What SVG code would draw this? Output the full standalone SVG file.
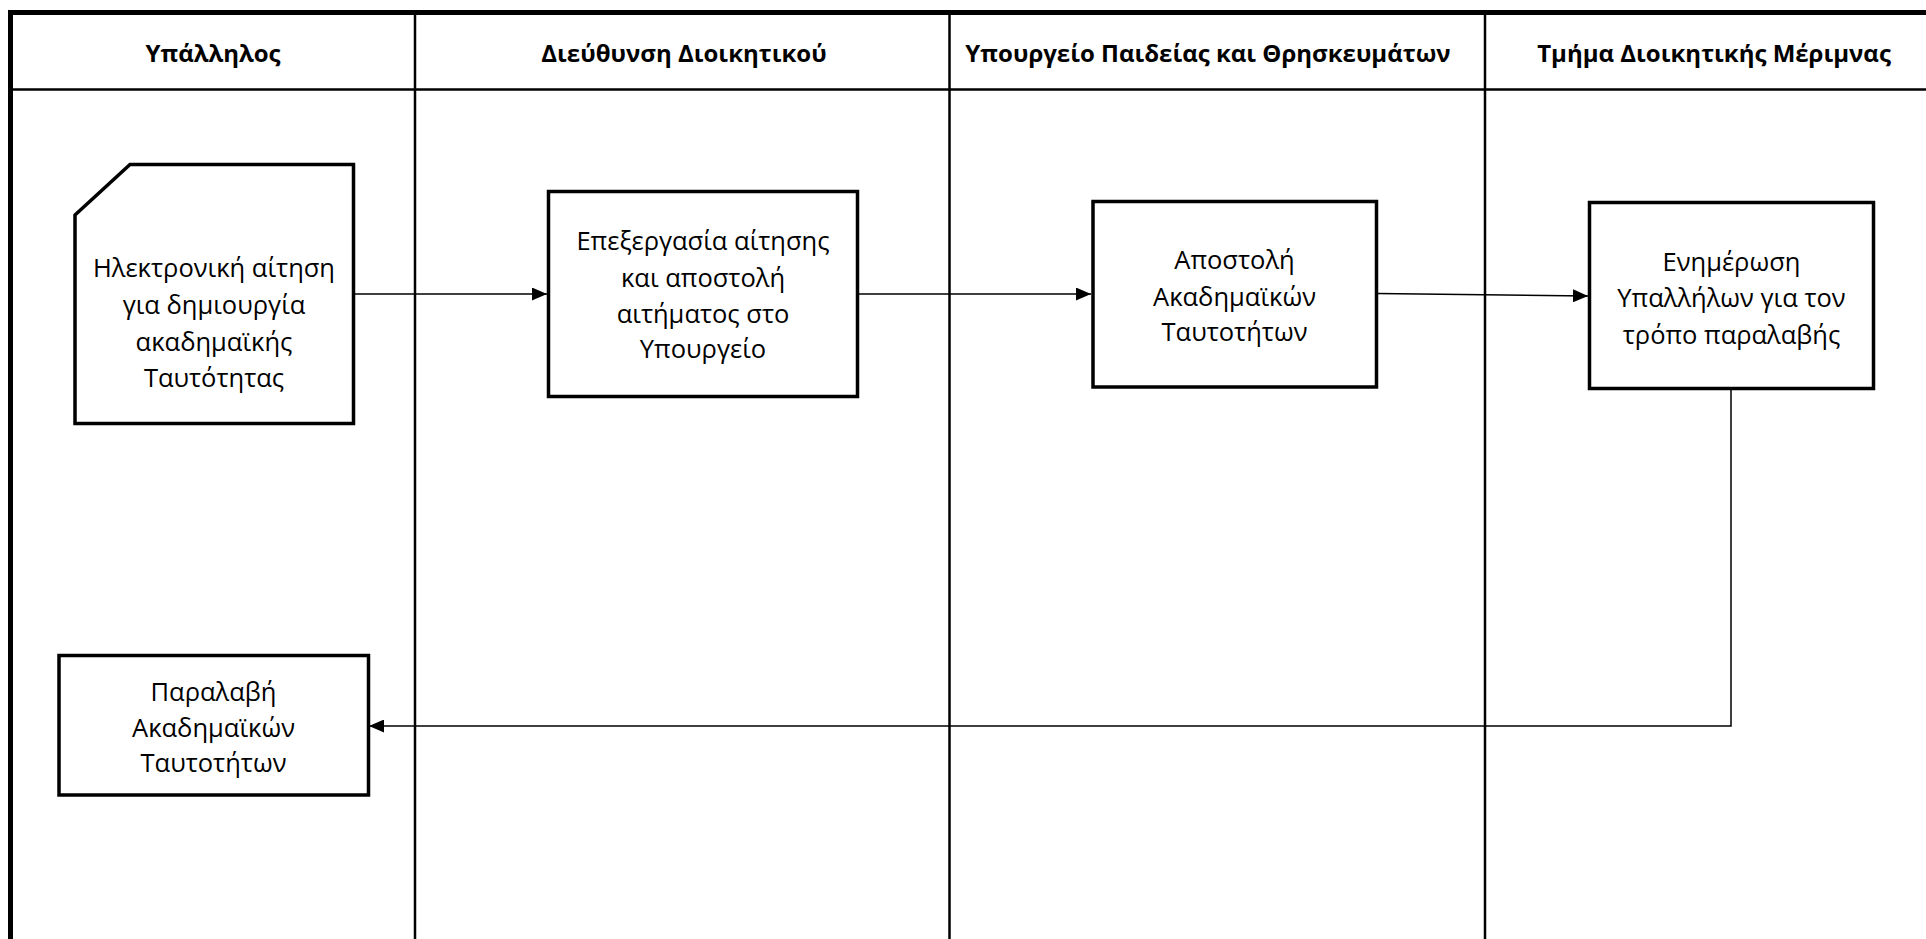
<svg xmlns="http://www.w3.org/2000/svg" width="1926" height="939" viewBox="0 0 1926 939">
<style>
.lane{stroke:#000;stroke-width:2.5;fill:none}
.border{stroke:#000;stroke-width:5;fill:none}
.node{stroke:#000;stroke-width:3.5;fill:#fff}
.hdr{font-family:"Open Sans","Noto Sans",sans-serif;font-weight:bold;font-size:24px;fill:#000;text-anchor:middle}
.lbl{font-family:"Open Sans","Noto Sans",sans-serif;font-size:25.5px;fill:#000;text-anchor:middle}
.conn{stroke:#000;stroke-width:1.5;fill:none}
</style>
<defs>
<marker id="arr" viewBox="0 0 15 13" refX="15" refY="6.5" markerWidth="15" markerHeight="13" markerUnits="userSpaceOnUse" orient="auto">
<path d="M0,0 L15,6.5 L0,13 Z" fill="#000"/>
</marker>
</defs>
<rect width="1926" height="939" fill="#fff"/>
<g id="lanes">
<line class="lane" x1="10" y1="89.5" x2="1926" y2="89.5"/>
<line class="lane" x1="415" y1="12" x2="415" y2="939"/>
<line class="lane" x1="949.5" y1="12" x2="949.5" y2="939"/>
<line class="lane" x1="1485" y1="12" x2="1485" y2="939"/>
<line class="border" x1="8" y1="12.5" x2="1926" y2="12.5"/>
<line class="border" x1="10.5" y1="10" x2="10.5" y2="939"/>
<text class="hdr" x="213" y="62">Υπάλληλος</text>
<text class="hdr" x="684" y="62">Διεύθυνση Διοικητικού</text>
<text class="hdr" x="1208" y="62">Υπουργείο Παιδείας και Θρησκευμάτων</text>
<text class="hdr" x="1714" y="62">Τμήμα Διοικητικής Μέριμνας</text>
</g>
<g id="connectors">
<line class="conn" x1="353.5" y1="294" x2="547" y2="294" marker-end="url(#arr)"/>
<line class="conn" x1="858" y1="294" x2="1091" y2="294" marker-end="url(#arr)"/>
<line class="conn" x1="1377" y1="293.5" x2="1588" y2="296" marker-end="url(#arr)"/>
<polyline class="conn" points="1731,388.5 1731,726 369,726" marker-end="url(#arr)"/>
</g>
<g id="node1">
<path class="node" d="M75,215 L130,164.5 L353.5,164.5 L353.5,423.5 L75,423.5 Z"/>
<text class="lbl" x="214" y="277">Ηλεκτρονική αίτηση</text>
<text class="lbl" x="214" y="314">για δημιουργία</text>
<text class="lbl" x="214" y="351">ακαδημαϊκής</text>
<text class="lbl" x="214" y="387">Ταυτότητας</text>
</g>
<g id="node2">
<rect class="node" x="548.5" y="191.5" width="309" height="205"/>
<text class="lbl" x="703" y="250">Επεξεργασία αίτησης</text>
<text class="lbl" x="703" y="287">και αποστολή</text>
<text class="lbl" x="703" y="323">αιτήματος στο</text>
<text class="lbl" x="703" y="358">Υπουργείο</text>
</g>
<g id="node3">
<rect class="node" x="1093" y="201.5" width="283.5" height="185.5"/>
<text class="lbl" x="1234.5" y="269">Αποστολή</text>
<text class="lbl" x="1234.5" y="306">Ακαδημαϊκών</text>
<text class="lbl" x="1234.5" y="341">Ταυτοτήτων</text>
</g>
<g id="node4">
<rect class="node" x="1589.5" y="202.5" width="284" height="186"/>
<text class="lbl" x="1731.5" y="271">Ενημέρωση</text>
<text class="lbl" x="1731.5" y="307">Υπαλλήλων για τον</text>
<text class="lbl" x="1731.5" y="344">τρόπο παραλαβής</text>
</g>
<g id="node5">
<rect class="node" x="59" y="655.5" width="309.5" height="139.5"/>
<text class="lbl" x="213.5" y="701">Παραλαβή</text>
<text class="lbl" x="213.5" y="737">Ακαδημαϊκών</text>
<text class="lbl" x="213.5" y="772">Ταυτοτήτων</text>
</g>
</svg>
